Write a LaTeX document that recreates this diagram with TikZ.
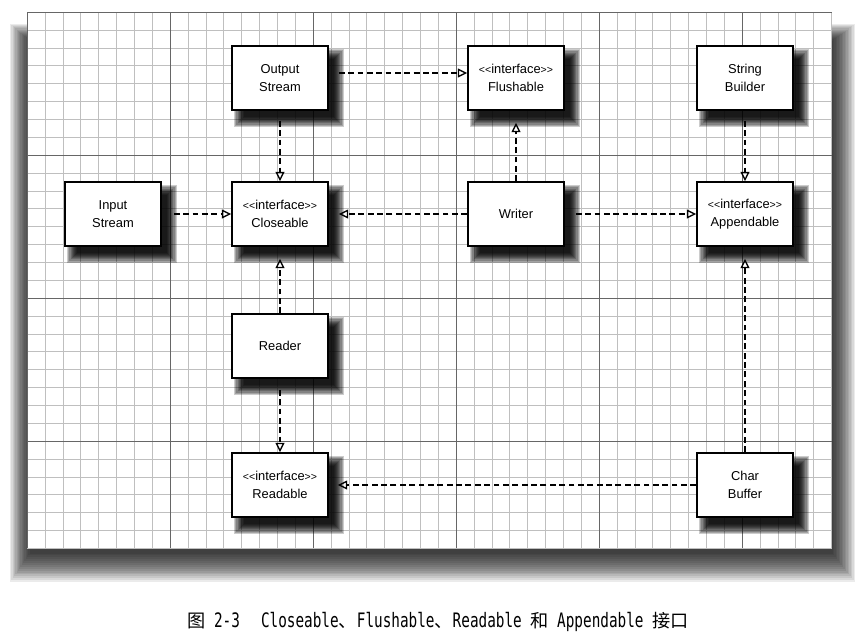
\documentclass[tikz,border=0pt]{standalone}
\usepackage{fontspec}
\newfontfamily\boxfont{Liberation Sans}
\newfontfamily\capcjk{Noto Sans CJK SC}
\newfontfamily\capmono[FakeStretch=0.72]{DejaVu Sans Mono}
\usetikzlibrary{arrows.meta,backgrounds}
\newcommand\stereo[1]{{\fontsize{9}{9}\selectfont<<}#1{\fontsize{9}{9}\selectfont>>}}
\newcommand\cj[1]{{\capcjk\fontsize{15.5}{15.5}\selectfont #1}}
\newcommand\mo[1]{{\capmono\fontsize{17}{17}\selectfont #1}}
\tikzset{
  >={Triangle[open,length=8pt,width=7.5pt]},
  iface/.style={rectangle,draw,line width=1.3pt,fill=white,
                minimum width=2.88cm,minimum height=1.92cm,align=center,
                font=\boxfont\fontsize{11}{15}\selectfont},
  impl/.style={->,line width=1.1pt,dash pattern=on 5pt off 3pt},
  shade step/.style={fill=black,opacity=#1},
  minor/.style={draw=black!25,line width=0.4pt},
  major/.style={draw=black!60,line width=0.7pt},
}

\begin{document}
\begin{tikzpicture}[x=0.03cm,y=-0.03cm]
    \useasboundingbox (0,0) rectangle (858,639);

    % Classes and interfaces
    \node[iface] (ostr)   at (280,78)  {Output\\Stream};
    \node[iface] (flush)  at (516,78)  {\stereo{interface}\\Flushable};
    \node[iface] (sbld)   at (745,78)  {String\\Builder};
    \node[iface] (istr)   at (113,214) {Input\\Stream};
    \node[iface] (close)  at (280,214) {\stereo{interface}\\Closeable};
    \node[iface] (writer) at (516,214) {Writer};
    \node[iface] (append) at (745,214) {\stereo{interface}\\Appendable};
    \node[iface] (reader) at (280,346) {Reader};
    \node[iface] (read)   at (280,485) {\stereo{interface}\\Readable};
    \node[iface] (cbuf)   at (745,485) {Char\\Buffer};

    \begin{scope}[on background layer]
      \fill[white] (0,0) rectangle (858,639);
      % Graph paper sheet and its shadow
      \foreach \i in {0,...,15}
        \fill[shade step=0.08] ({10+\i*1.3},{24+\i*1.1}) rectangle ({855-\i*1.5},{582-\i*1.9});
      \fill[white] (27,12) rectangle (832,548);
      \foreach \k in {0,...,45}
        \draw[minor] ({27+\k*17.875},12) -- ({27+\k*17.875},548);
      \foreach \k in {0,...,30}
        \draw[minor] (27,{12+\k*17.875}) -- (832,{12+\k*17.875});
      \foreach \k in {0,8,...,40}
        \draw[major] ({27+\k*17.875},12) -- ({27+\k*17.875},548);
      \foreach \k in {0,8,16,24}
        \draw[major] (27,{12+\k*17.875}) -- (832,{12+\k*17.875});
      % Box shadows
      \foreach \n in {ostr,flush,sbld,istr,close,writer,append,reader,read,cbuf}
        \foreach \i in {0,...,9}
          \fill[shade step=0.2]
            ([shift={({3+\i*1.1},{4+\i*1.1})}]\n.north west) rectangle
            ([shift={({15-\i*1.1},{16-\i*1.1})}]\n.south east);
    \end{scope}

    % Realizations
    \draw[impl,shorten <=0.3cm] ([yshift=0.15cm]ostr.east) -- ([yshift=0.15cm]flush.west);
    \draw[impl,shorten <=0.3cm] (ostr) -- (close);
    \draw[impl,shorten <=0.36cm] (istr) -- (close);
    \draw[impl,shorten >=0.3cm] (writer) -- (close);
    \draw[impl,shorten >=0.36cm] (writer) -- (flush);
    \draw[impl,shorten <=0.33cm] (writer) -- (append);
    \draw[impl,shorten <=0.3cm] (sbld) -- (append);
    \draw[impl,shorten >=0.36cm] (cbuf) -- (append);
    \draw[impl,shorten >=0.36cm] (reader) -- (close);
    \draw[impl,shorten <=0.33cm] (reader) -- (read);
    \draw[impl,shorten >=0.27cm] (cbuf) -- (read);

    % Caption
    \node[anchor=base west,inner sep=0pt,text=black] (cap) at (187,627)
      {\cj{图}\mo{ 2-3}\hspace{18pt}\mo{Closeable}\cj{、}\mo{Flushable}\cj{、}\mo{Readable }\cj{和}\mo{ Appendable }\cj{接口}};
\end{tikzpicture}
\end{document}
